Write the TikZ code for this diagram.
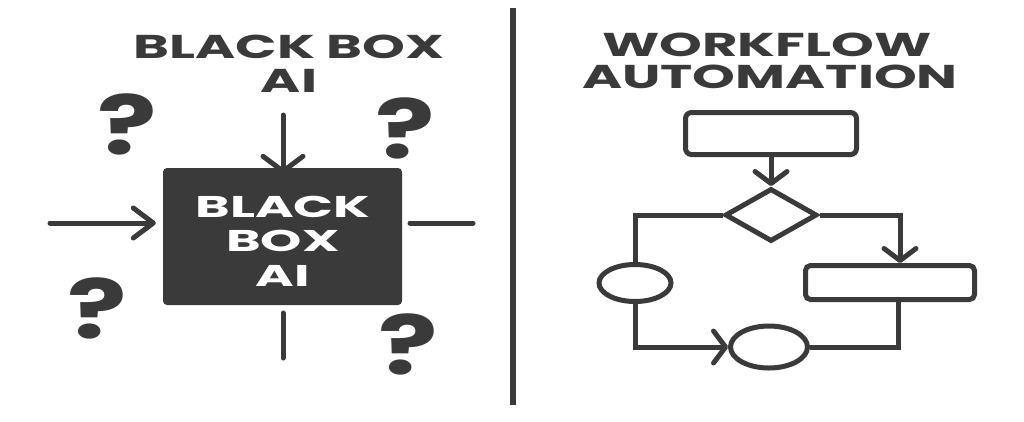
\documentclass[tikz,border=0pt]{standalone}
\usepackage{fontspec}
\setmainfont{Poppins}
\newfontfamily\widefont{Poppins}[FakeStretch=1.65]
\newfontfamily\boxfont{Poppins}[FakeStretch=1.75]
\newfontfamily\qfont{Poppins}[FakeStretch=1.35]
\usetikzlibrary{shapes.geometric,arrows.meta}
\definecolor{ink}{HTML}{3A3A3A}
\begin{document}
\begin{tikzpicture}[x=1pt,y=-1pt,
  ln/.style={draw=ink,line width=5pt},
  arr/.style={ln,-{Straight Barb[length=12pt,width=32pt,line width=5pt,round]}},
  topar/.style={ln,-{Straight Barb[length=15pt,width=40pt,line width=5pt,round]}},
  leftar/.style={ln,-{Straight Barb[length=20pt,width=30pt,line width=5pt,round]}},
  title/.style={text=ink,font=\widefont\bfseries\fontsize{33}{30}\selectfont,align=center,inner sep=0},
  qm/.style={text=ink,font=\qfont\bfseries\fontsize{82}{82}\selectfont,inner sep=0},
  boxtxt/.style={text=white,font=\boxfont\bfseries\fontsize{30}{34.5}\selectfont,align=center},
  frect/.style={ln,rectangle,rounded corners=6pt,inner sep=0}]
\useasboundingbox (0,0) rectangle (1024,421);
% divider
\draw[draw=ink,line width=6pt] (513,8) -- (513,405);
% left panel
\node[title] (t1) at (289,47) {BLACK BOX};
\node[title] (t2) at (289,81) {AI};
\node[fill=ink,rounded corners=4pt,minimum width=239pt,minimum height=137pt,inner sep=0] (bb) at (282.5,236.5) {};
\node[boxtxt] (bt) at (283,241) {BLACK\\BOX\\AI};
\node[qm] (q1) at (127,124) {?};
\node[qm] (q2) at (405,128) {?};
\node[qm] (q3) at (97,308) {?};
\node[qm] (q4) at (408,344) {?};
\coordinate (ta) at (283,115);
\coordinate (la) at (50,223);
\coordinate (ra1) at (410,223);
\coordinate (ra2) at (473,223);
\coordinate (ba1) at (283,313);
\coordinate (ba2) at (283,358);
\draw[topar,line cap=round] (ta) -- ([yshift=-6pt]ta |- bb.north);
\draw[leftar,line cap=round] (la) -- ([xshift=-7pt]la -| bb.west);
\draw[ln,line cap=round] (ra1) -- (ra2);
\draw[ln,line cap=round] (ba1) -- (ba2);
% right panel
\node[title] (w1) at (767,45) {WORKFLOW};
\node[title] (w2) at (770,77) {AUTOMATION};
\node[frect,minimum width=171pt,minimum height=42pt] (r1) at (771,133.5) {};
\node[ln,diamond,minimum width=92pt,minimum height=53pt,inner sep=0] (d) at (771,215) {};
\node[ln,ellipse,minimum width=72pt,minimum height=37pt,inner sep=0] (e1) at (635,283) {};
\node[ln,ellipse,minimum width=77pt,minimum height=42pt,inner sep=0] (e2) at (769,347) {};
\node[frect,minimum width=169pt,minimum height=34pt,rounded corners=5pt] (r2) at (890,282.5) {};
\draw[arr] (r1.south) -- (d.north);
\draw[ln] (d.west) -| (e1.north);
\draw[arr] (e1.south) |- (e2.west);
\draw[arr] (d.east) -| ([xshift=10pt]r2.north);
\draw[ln] ([xshift=8pt]r2.south) |- (e2.east);
\end{tikzpicture}
\end{document}
